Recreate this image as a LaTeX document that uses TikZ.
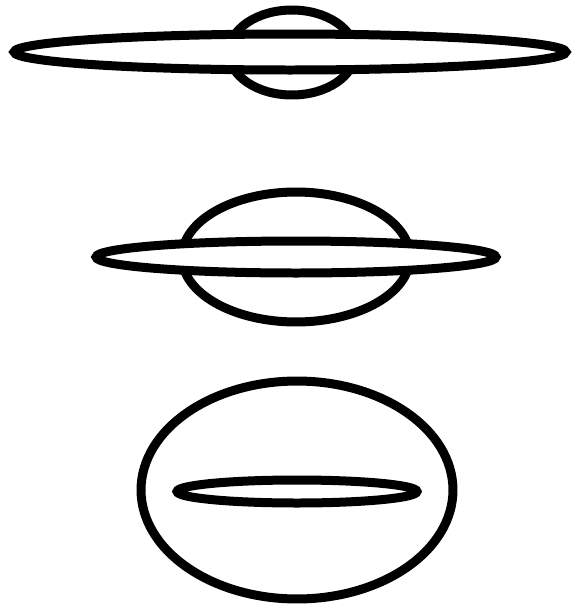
\documentclass[tikz,border=0pt]{standalone}
\usetikzlibrary{positioning}
\begin{document}
\begin{tikzpicture}[
  x=0.02cm, y=-0.02cm,
  ring/.style={draw=black, line width=0.18cm},
  disc/.style={ring, fill=white},
]
\useasboundingbox (0,0) rectangle (574,606);

% ── bulge first, flat disc drawn over it ────────────────────────────────────
% cx/cy of bulge, its radii, cx/cy of disc, its radii (cm)
\foreach \bx/\by/\brx/\bry/\dx/\dy/\drx/\dry in {
  292/52.5/1.26/0.85/290/52/5.52/0.36,
  296/257/2.28/1.30/296/257/4.00/0.32,
  297/490/3.12/2.18/297/491.5/2.40/0.23}{
  \draw[ring] (\bx,\by) ellipse [x radius=\brx cm, y radius=\bry cm];
  \draw[disc] (\dx,\dy) ellipse [x radius=\drx cm, y radius=\dry cm];
}
\end{tikzpicture}
\end{document}
